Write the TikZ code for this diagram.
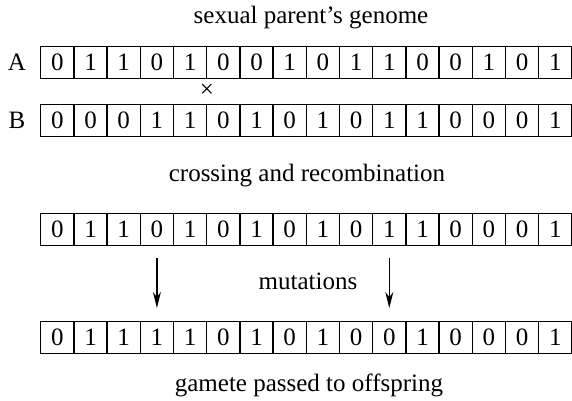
\documentclass[tikz,border=0pt]{standalone}
\usepackage{fontspec}
\setmainfont{Liberation Serif}
\newfontfamily\genefont{Liberation Serif}
\usetikzlibrary{arrows.meta}
\begin{document}
\begin{tikzpicture}[x=1pt, y=-1pt,
  txt/.style={font=\genefont\fontsize{25}{30}\selectfont},
  cell/.style={txt, draw, line width=1.4pt, minimum width=33.2pt,
    minimum height=32pt, inner sep=0pt, anchor=north west},
  caption/.style={txt, anchor=base, inner sep=0pt},
  mut/.style={-{Stealth[length=16pt, width=8pt, inset=5pt]}, line width=1.4pt}]
\useasboundingbox (0,0) rectangle (572,400);

% the two parent chromosomes
\foreach \b [count=\i] in {0,1,1,0,1,0,0,1,0,1,1,0,0,1,0,1}
  \node[cell] (A\i) at ({40+(\i-1)*33.2}, 46) {\b};
\foreach \b [count=\i] in {0,0,0,1,1,0,1,0,1,0,1,1,0,0,0,1}
  \node[cell] (B\i) at ({40+(\i-1)*33.2}, 104) {\b};
% recombined chromosome
\foreach \b [count=\i] in {0,1,1,0,1,0,1,0,1,0,1,1,0,0,0,1}
  \node[cell] (C\i) at ({40+(\i-1)*33.2}, 213) {\b};
% gamete after mutation
\foreach \b [count=\i] in {0,1,1,1,1,0,1,0,1,0,0,1,0,0,0,1}
  \node[cell] (D\i) at ({40+(\i-1)*33.2}, 321) {\b};

\node[txt] (labA) at (17, 62) {A};
\node[txt] (labB) at (17, 120) {B};
\node[txt, inner sep=0pt] (cross) at (207, 91) {×};

\node[caption] (title) at (311, 23) {sexual parent’s genome};
\node[caption] (recomb) at (307, 181) {crossing and recombination};
\node[caption] (mutlabel) at (308, 289) {mutations};
\node[caption] (gamete) at (309, 391) {gamete passed to offspring};

\draw[mut] ([yshift=-12pt]C4.south) -- ([yshift=13pt]D4.north);
\draw[mut] ([yshift=-12pt]C11.south) -- ([yshift=13pt]D11.north);
\end{tikzpicture}
\end{document}
